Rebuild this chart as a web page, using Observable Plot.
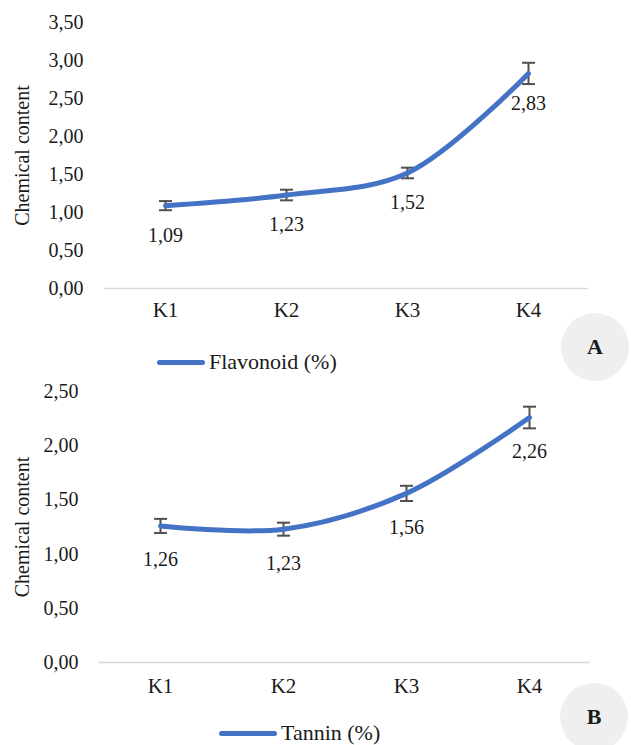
<!DOCTYPE html>
<html><head><meta charset="utf-8">
<script src="https://cdn.jsdelivr.net/npm/d3@7"></script>
<script src="https://cdn.jsdelivr.net/npm/@observablehq/plot@0.6"></script>
<style>
body{margin:0;background:#fff;}
#wrap{position:relative;width:631px;height:745px;font-family:"Liberation Serif","Times New Roman",Times,"DejaVu Serif",serif;color:#1a1a1a;overflow:hidden}
.panel{position:absolute;left:0}
.panel text{font-family:"Liberation Serif","Times New Roman",Times,"DejaVu Serif",serif}
.legend{position:absolute;display:flex;align-items:center;height:24px;line-height:24px;font-size:22px;white-space:nowrap}
.swatch{height:5px;background:#4472C4;border-radius:3px;margin-right:4px}
.badge{position:absolute;width:68px;height:68px;border-radius:50%;background:#efefef;display:flex;align-items:center;justify-content:center;font-weight:bold;font-size:22px}
</style></head>
<body><div id="wrap"></div>
<script>
const categories = ["K1", "K2", "K3", "K4"];
const flavonoid = [1.09, 1.23, 1.52, 2.83];
const flavonoidErr = [0.06, 0.07, 0.07, 0.14];
const tannin = [1.26, 1.23, 1.56, 2.26];
const tanninErr = [0.065, 0.06, 0.07, 0.10];
const ticksA = [0, 0.5, 1, 1.5, 2, 2.5, 3, 3.5];
const ticksB = [0, 0.5, 1, 1.5, 2, 2.5];
const yTitle = "Chemical content";

const FONT = '"Liberation Serif", "Times New Roman", Times, "DejaVu Serif", serif';
const fmt = d => d.toFixed(2).replace(".", ",");
const capSymbol = {draw(ctx) { ctx.moveTo(-6.5, 0); ctx.lineTo(6.5, 0); }};

function panel(o) {
  const data = categories.map((k, i) => ({k, v: o.values[i], e: o.errs[i]}));
  return Plot.plot({
    width: 631, height: o.height,
    marginTop: o.marginTop, marginBottom: o.marginBottom,
    marginLeft: o.marginLeft, marginRight: o.marginRight,
    style: {fontFamily: FONT, fontSize: "20px", color: "#1a1a1a", background: "transparent"},
    x: {type: "point", domain: categories, padding: 0.5, label: null},
    y: {domain: [0, o.yMax], label: null},
    marks: [
      Plot.ruleY([0], {stroke: "#d9d9d9", strokeWidth: 1.5}),
      Plot.axisY(o.ticks, {tickSize: 0, tickPadding: o.yPad, tickFormat: fmt, fontSize: 20, label: null}),
      Plot.axisX({tickSize: 0, tickPadding: o.xPad, fontSize: 21, label: null}),
      Plot.ruleX(data, {x: "k", y1: d => d.v - d.e, y2: d => d.v + d.e, stroke: "#505050", strokeWidth: 2}),
      Plot.dot(data, {x: "k", y: d => d.v - d.e, symbol: capSymbol, fill: "none", stroke: "#505050", strokeWidth: 2}),
      Plot.dot(data, {x: "k", y: d => d.v + d.e, symbol: capSymbol, fill: "none", stroke: "#505050", strokeWidth: 2}),
      Plot.line(data, {x: "k", y: "v", stroke: "#4472C4", strokeWidth: 5, curve: "catmull-rom", strokeLinecap: "round"}),
      Plot.text(data, {x: "k", y: "v", text: d => fmt(d.v), dy: o.labelDy, fontSize: 20, fill: "#1a1a1a"}),
      Plot.text([yTitle], {frameAnchor: "left", textAnchor: "middle", dx: -(o.marginLeft - 22), rotate: -90, fontSize: 20, fill: "#1a1a1a"})
    ]
  });
}

const wrap = document.getElementById("wrap");

const a = panel({values: flavonoid, errs: flavonoidErr, ticks: ticksA, yMax: 3.5,
  height: 330, marginTop: 22, marginBottom: 42, marginLeft: 104, marginRight: 43,
  yPad: 21, xPad: 14, labelDy: 30});
a.classList.add("panel"); a.style.top = "0px";
wrap.appendChild(a);

const b = panel({values: tannin, errs: tanninErr, ticks: ticksB, yMax: 2.5,
  height: 340, marginTop: 21, marginBottom: 48, marginLeft: 98, marginRight: 41,
  yPad: 20, xPad: 16, labelDy: 34});
b.classList.add("panel"); b.style.top = "370px";
wrap.appendChild(b);

function legend(label, left, cy, sw) {
  const d = document.createElement("div");
  d.className = "legend";
  d.style.left = left + "px"; d.style.top = (cy - 12) + "px";
  const s = document.createElement("div"); s.className = "swatch"; s.style.width = sw + "px";
  const t = document.createElement("span"); t.textContent = label;
  d.appendChild(s); d.appendChild(t);
  wrap.appendChild(d);
}
legend("Flavonoid (%)", 157, 362, 48);
legend("Tannin (%)", 219, 733, 58);

function badge(txt, cx, cy) {
  const d = document.createElement("div");
  d.className = "badge"; d.textContent = txt;
  d.style.left = (cx - 34) + "px"; d.style.top = (cy - 34) + "px";
  wrap.appendChild(d);
}
badge("A", 595, 347);
badge("B", 594, 717);
</script>
</body></html>
